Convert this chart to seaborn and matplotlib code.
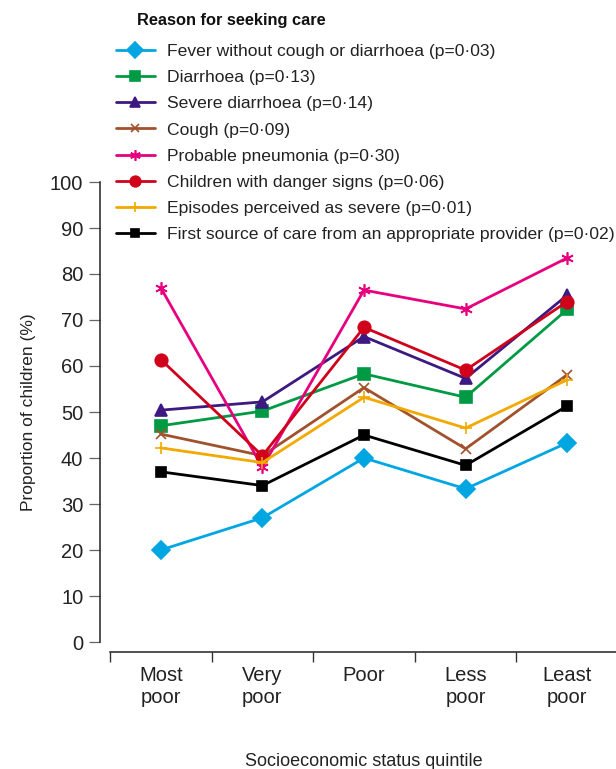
#!/usr/bin/env python3
"""Care seeking by socioeconomic status quintile - line chart with seaborn"""

import numpy as np
import pandas as pd
import matplotlib
matplotlib.use("Agg")
import matplotlib.pyplot as plt
import seaborn as sns

# categories on the x axis
quintiles = ["Most\npoor", "Very\npoor", "Poor", "Less\npoor", "Least\npoor"]

# one list of values (%) per reason for seeking care
fever = [20.0, 27.0, 40.0, 33.3, 43.3]
diarrhoea = [47.0, 50.2, 58.3, 53.2, 72.3]
severe_diarrhoea = [50.4, 52.2, 66.4, 57.3, 75.4]
cough = [45.2, 40.5, 55.3, 42.0, 58.1]
pneumonia = [77.0, 38.0, 76.5, 72.4, 83.5]
danger_signs = [61.4, 40.5, 68.4, 59.1, 74.0]
perceived_severe = [42.2, 39.0, 53.2, 46.5, 57.0]
first_source = [37.0, 34.0, 45.0, 38.4, 51.3]

labels = [
    "Fever without cough or diarrhoea (p=0\u00b703)",
    "Diarrhoea (p=0\u00b713)",
    "Severe diarrhoea (p=0\u00b714)",
    "Cough (p=0\u00b709)",
    "Probable pneumonia (p=0\u00b730)",
    "Children with danger signs (p=0\u00b706)",
    "Episodes perceived as severe (p=0\u00b701)",
    "First source of care from an appropriate provider (p=0\u00b702)",
]
series = [fever, diarrhoea, severe_diarrhoea, cough, pneumonia,
          danger_signs, perceived_severe, first_source]

# styling per series
colors = ["#00a6e2", "#009a44", "#3c1a82", "#a0522d", "#e6007e",
          "#d0021b", "#f2a900", "#000000"]
markers = ["D", "s", "^", "x", (6, 2, 0), "o", "+", "s"]
msizes = [9, 8.5, 9, 7, 9, 9, 9, 6.5]


def main():
    sns.set_theme(style="ticks")
    plt.rcParams["font.family"] = ["Liberation Sans", "DejaVu Sans"]

    fig = plt.figure(figsize=(6.16, 7.69), dpi=100)
    W, H = 616, 769
    ax = fig.add_axes([110 / W, (H - 642) / H, 508 / W, 460 / H])

    x = np.arange(len(quintiles))
    for vals, lab, col, mk, ms in zip(series, labels, colors, markers, msizes):
        df = pd.DataFrame({"q": x, "v": vals})
        sns.lineplot(data=df, x="q", y="v", ax=ax, color=col, marker=mk,
                     markersize=ms, markeredgecolor=col, markeredgewidth=1.2,
                     linewidth=2.0, label=lab, legend=False, clip_on=False)

    ax.set_xlim(-0.5, 4.5)
    ax.set_ylim(0, 100)
    ax.set_yticks(range(0, 101, 10))
    ax.set_xticks(x)
    ax.set_xticklabels(quintiles, linespacing=1.85)
    ax.set_xticks(np.arange(-0.5, 4.0, 1.0), minor=True)
    ax.tick_params(axis="x", which="major", length=0, pad=10,
                   labelsize=14.5, labelcolor="#222222")
    ax.tick_params(axis="x", which="minor", length=7.5, width=1.0, color="#333333")
    ax.tick_params(axis="y", length=8, width=0.9, labelsize=14.5,
                   color="#666666", labelcolor="#222222", pad=4)

    # pull the spines apart by 10 px (offset is in points)
    sns.despine(ax=ax, offset=7.2)
    ax.spines["left"].set_bounds(0, 100)
    for side in ["left", "bottom"]:
        ax.spines[side].set_linewidth(1.1)
        ax.spines[side].set_color("#222222")

    ax.set_ylabel("Proportion of children (%)", fontsize=12.5, color="#222222",
                  labelpad=10)
    ax.set_xlabel("Socioeconomic status quintile", fontsize=13, color="#222222")
    ax.xaxis.set_label_coords(0.5, -(753 - 642) / 460)

    handles, labs = ax.get_legend_handles_labels()
    fig.text(137 / W, 1 - 21 / H, "Reason for seeking care", fontsize=11.8,
             fontweight="bold", va="center", ha="left", color="#111111")
    fig.legend(handles, labs, loc="upper left",
               bbox_to_anchor=(116 / W, 1 - 44 / H), frameon=False,
               fontsize=12.6, handlelength=2.2, handletextpad=0.7,
               labelspacing=0.62, borderaxespad=0, borderpad=0,
               markerscale=0.85, labelcolor="#222222")

    fig.savefig("out.png", dpi=100)


if __name__ == "__main__":
    main()
